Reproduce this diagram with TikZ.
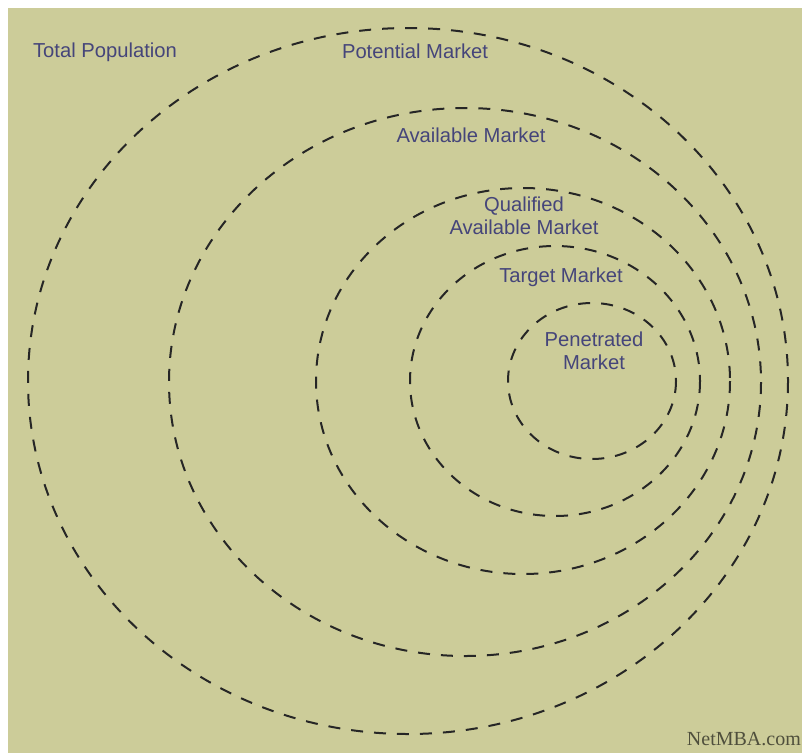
\documentclass[tikz,border=0pt]{standalone}
\usepackage{fontspec}
\setmainfont{Liberation Sans}
\newfontfamily\sitefont{Liberation Serif}
\usepackage{xcolor}
\definecolor{khaki}{HTML}{CCCC99}
\definecolor{labelblue}{HTML}{45457A}
\definecolor{sitegray}{HTML}{4F4F3C}

\begin{document}
\begin{tikzpicture}[x=1pt,y=-1pt,
	ring/.style={draw=black!85,line width=2pt,dash pattern=on 12pt off 11pt},
	lbl/.style={text=labelblue,font=\fontsize{20.2}{22.5}\selectfont,align=center,inner sep=0pt,anchor=base}]
		\useasboundingbox (0,0) rectangle (802,753);
		\fill[white] (0,0) rectangle (802,753);
		\fill[khaki] (8,8) rectangle (802,753);
		%
		\draw[ring] (408,381) ellipse (380 and 353);
		\draw[ring] (465,382) ellipse (296 and 274);
		\draw[ring] (523,381) ellipse (207 and 193);
		\draw[ring] (555,381) ellipse (145 and 135);
		\draw[ring] (592,381) ellipse (84 and 78);
		%
		% the base of a two-line label is its last line
		\node[lbl] (total) at (105,57) {Total Population};
		\node[lbl] (potential) at (415,58) {Potential Market};
		\node[lbl] (available) at (471,142) {Available Market};
		\node[lbl] (qualified) at (524,234) {Qualified\\Available Market};
		\node[lbl] (target) at (561,282) {Target Market};
		\node[lbl] (penetrated) at (594,369) {Penetrated\\Market};
		%
		\node[anchor=base east,inner sep=0pt,text=sitegray,font=\sitefont\fontsize{20}{22}\selectfont] (site) at (801,745) {NetMBA.com};
	\end{tikzpicture}
\end{document}
